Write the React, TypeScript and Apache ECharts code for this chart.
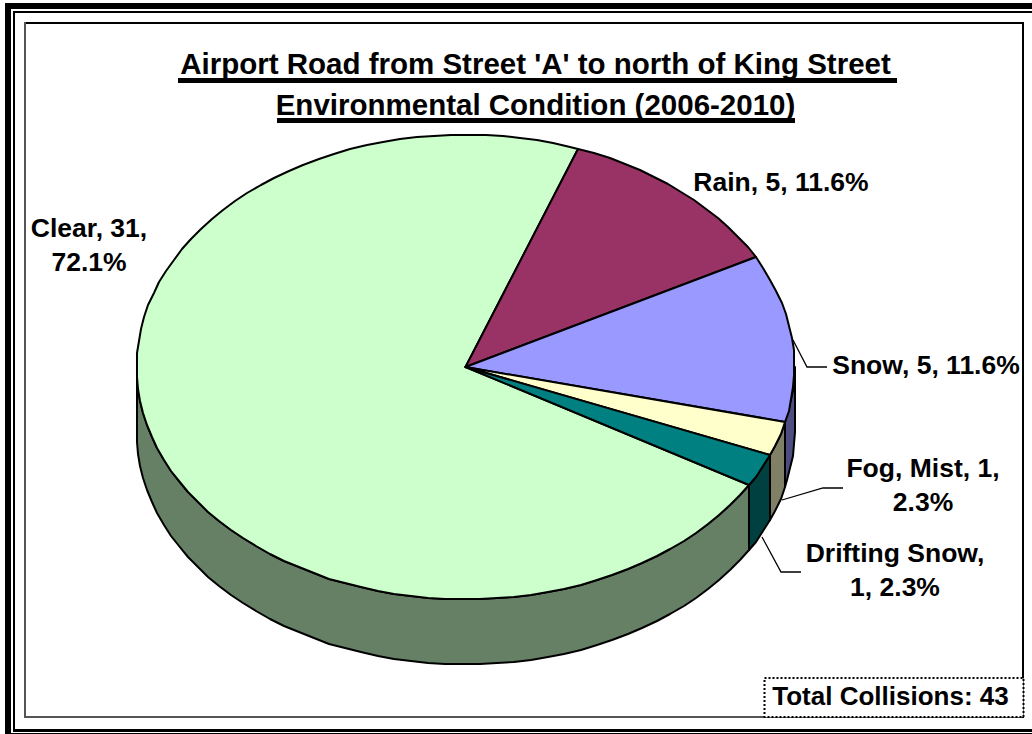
import React, { useEffect, useRef } from "react";
import * as echarts from "echarts";

const titleLines = ["Airport Road from Street 'A' to north of King Street", "Environmental Condition (2006-2010)"];
const categories = ["Clear", "Rain", "Snow", "Fog, Mist", "Drifting Snow"];
const values = [31, 5, 5, 1, 1];
const topColors = ["#CCFFCC", "#993366", "#9999FF", "#FFFFCC", "#008080"];
const sideColors = ["#668066", "#4D1A33", "#4D4D80", "#808066", "#004040"];
const totalLabel = "Total Collisions: 43";

// layout only
const FONT = "'Liberation Sans', Arial, sans-serif";
const CX = 465.5, CY = 367, RX = 329, RY = 232.5, DEPTH = 65;
const START_DEG = 120.5;
const STEP = 3;
const labelBreaks = ["name,value|pct", "inline", "inline", "name,value|pct", "name|value,pct"];
const labelAnchors = [
  [89, 211], [781, 165], [926, 348], [923, 451], [895, 536],
];
const leaders = [
  null, null,
  [[793, 340], [807, 367], [827, 367]],
  [[782, 500], [823, 488], [843, 488]],
  [[762, 537], [781, 572], [801, 572]],
];

const total = values.reduce((a, b) => a + b, 0);
const starts: number[] = [];
values.reduce((acc, v, i) => {
  starts[i] = acc % 360;
  return acc + (v / total) * 360;
}, START_DEG);

const pt = (deg: number, dy = 0) => {
  const r = (deg * Math.PI) / 180;
  return [Math.round(CX + RX * Math.sin(r)), Math.round(CY - RY * Math.cos(r) + dy)];
};
const arc = (a: number, b: number, dy = 0) => {
  const out: number[][] = [];
  for (let d = a; d < b; d += STEP) out.push(pt(d, dy));
  out.push(pt(b, dy));
  return out;
};

const labelText = (i: number) => {
  const name = categories[i];
  const v = values[i];
  const pct = ((v / total) * 100).toFixed(1) + "%";
  const mode = labelBreaks[i];
  if (mode === "name,value|pct") return `${name}, ${v},\n${pct}`;
  if (mode === "name|value,pct") return `${name},\n${v}, ${pct}`;
  return `${name}, ${v}, ${pct}`;
};

const frameRect = (x: number, y: number, width: number, height: number, fill = "#000") => ({
  type: "rect",
  silent: true,
  shape: { x, y, width, height },
  style: { fill },
});

const renderSlice = (params: any, api: any) => {
  const i = params.dataIndex;
  const a0 = starts[i];
  const a1 = a0 + (api.value(0) / total) * 360;
  const stroke = { stroke: "#000", lineWidth: 2, lineJoin: "round" };
  const children: any[] = [];
  const wa = Math.max(a0, 90);
  const wb = Math.min(a1, 270);
  if (wb > wa) {
    children.push({
      type: "polygon",
      shape: { points: [...arc(wa, wb), ...arc(wa, wb, DEPTH).reverse()] },
      style: { fill: sideColors[i], ...stroke },
    });
  }
  children.push({
    type: "polygon",
    shape: { points: [[CX, CY], ...arc(a0, a1)] },
    style: { fill: topColors[i], ...stroke },
  });
  return { type: "group", children };
};

export default function App() {
  const ref = useRef<HTMLDivElement>(null);
  useEffect(() => {
    const chart = echarts.init(ref.current!, null, { renderer: "svg" });
    const graphics: any[] = [
      frameRect(5, 3, 1027, 6),
      frameRect(13, 11, 1019, 2),
      frameRect(5, 3, 6, 731),
      frameRect(13, 11, 2, 720),
      frameRect(13, 729, 1019, 3),
      frameRect(5, 733, 1027, 1),
      frameRect(24, 22, 999, 2),
      frameRect(24, 22, 2, 696, "#555"),
      frameRect(24, 716, 999, 2, "#555"),
      frameRect(1022, 22, 2, 696),
      frameRect(178, 78, 719, 5),
      frameRect(277, 118, 518, 5),
    ];
    leaders.forEach((p) => {
      if (p) graphics.push({
        type: "polyline", silent: true, z: 10,
        shape: { points: p },
        style: { stroke: "#000", lineWidth: 1.3, fill: "none" },
      });
    });
    categories.forEach((_, i) => {
      graphics.push({
        type: "text", z: 11,
        x: labelAnchors[i][0], y: labelAnchors[i][1],
        style: {
          text: labelText(i), fill: "#000", font: `bold 26.5px ${FONT}`,
          align: "center", verticalAlign: "top", lineHeight: 34,
        },
      });
    });
    graphics.push({
      type: "rect", z: 12, silent: true,
      shape: { x: 764.5, y: 678, width: 259, height: 39 },
      style: { fill: "#fff", stroke: "#000", lineWidth: 2, lineDash: [2, 2] },
    });
    graphics.push({
      type: "text", z: 13, x: 890.5, y: 683,
      style: { text: totalLabel, fill: "#000", font: `bold 26px ${FONT}`, align: "center", verticalAlign: "top" },
    });
    chart.setOption({
      animation: false,
      backgroundColor: "#fff",
      title: {
        text: titleLines.join("\n"),
        left: 530.5, top: 38, textAlign: "center",
        textStyle: { fontFamily: FONT, fontWeight: "bold", fontSize: 29.5, lineHeight: 41, color: "#000" },
      },
      graphic: graphics,
      series: [{
        type: "custom",
        coordinateSystem: "none",
        renderItem: renderSlice,
        silent: true,
        data: values.map((v, i) => ({ name: categories[i], value: [v] })),
      }],
    });
    return () => chart.dispose();
  }, []);
  return <div ref={ref} style={{ position: "absolute", left: 0, top: 0, width: 1032, height: 734 }} />;
}
